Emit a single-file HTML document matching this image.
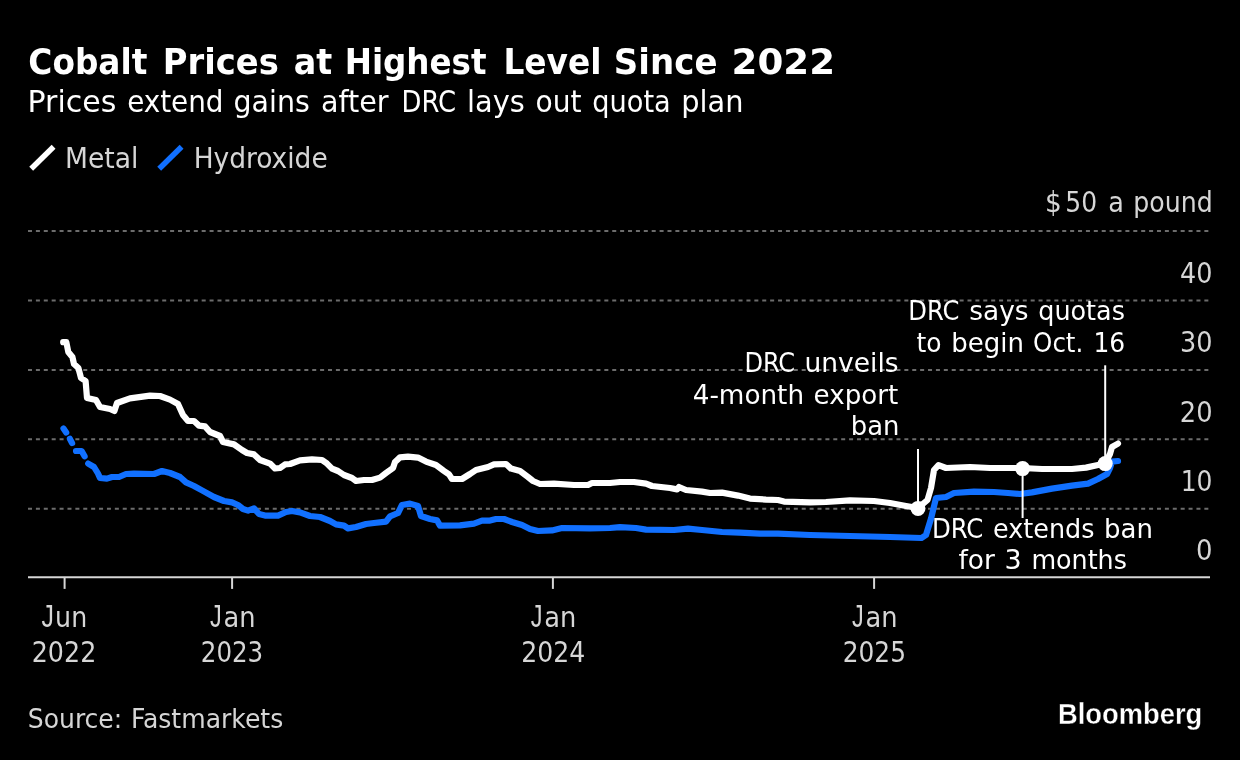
<!DOCTYPE html>
<html lang="en"><head><meta charset="utf-8"><title>Cobalt Prices at Highest Level Since 2022</title>
<style>
html,body{margin:0;padding:0;background:#000;}
body{width:1240px;height:760px;overflow:hidden;}
svg{display:block;}
text{font-family:'DejaVu Sans Condensed','DejaVu Sans','Liberation Sans',sans-serif;fill:#fff;white-space:pre;}
.t{font-weight:bold;font-size:35.8px;}
.s{font-size:31px;}
.l{font-size:28px;fill:#d6d6d6;}
.y{font-size:28px;fill:#d6d6d6;}
.x{font-size:27.6px;fill:#d6d6d6;}
.a{font-size:27.4px;fill:#fff;}
.src{font-size:26.6px;fill:#d6d6d6;}
.bb{font-family:'Liberation Sans','DejaVu Sans',sans-serif;font-weight:bold;font-size:28.8px;fill:#fff;stroke:#000;stroke-width:0.3px;}
.g{stroke:#6c6c6c;stroke-width:2;stroke-dasharray:4 3.895;fill:none;}
.ax{stroke:#d6d6d6;stroke-width:2;fill:none;}
.al{stroke:#fff;stroke-width:2;fill:none;}
.w{stroke:#fff;stroke-width:6.2;fill:none;stroke-linejoin:round;stroke-linecap:round;}
.b{stroke:#1170ff;stroke-width:6.2;fill:none;stroke-linejoin:round;stroke-linecap:round;}
</style></head><body>
<svg width="1240" height="760" viewBox="0 0 1240 760">
<rect width="1240" height="760" fill="#000"/>
<path d="M31.2,168.8 L53.6,146.8" stroke="#fff" stroke-width="5.5" fill="none"/>
<path d="M159.2,168.8 L181.6,146.8" stroke="#1170ff" stroke-width="5.5" fill="none"/>
<path class="g" d="M28,230.9 H1208.4"/>
<path class="g" d="M28,300.4 H1208.4"/>
<path class="g" d="M28,369.9 H1208.4"/>
<path class="g" d="M28,439.35 H1208.4"/>
<path class="g" d="M28,508.75 H1208.4"/>
<path class="b" d="M63.5,428.5 L66.2,432.4"/>
<path class="b" d="M69.9,438.8 L72.1,443.1"/>
<path class="b" d="M76.0,451.0 L81.6,451.0 L84.6,456.3"/>
<path class="b" d="M88.2,463.6 L94.0,467.0 L98.0,473.5 L100.0,478.0 L107.0,478.6 L112.0,477.0 L119.0,477.0 L126.0,474.0 L134.0,473.6 L154.0,474.0 L162.0,471.0 L170.0,473.0 L180.0,477.0 L186.0,482.4 L194.0,486.0 L202.0,490.4 L214.0,497.0 L224.0,501.0 L232.0,502.4 L238.0,505.0 L243.0,509.0 L248.0,510.6 L254.0,508.4 L259.0,514.0 L265.0,515.6 L278.0,515.6 L286.0,512.0 L292.0,511.0 L300.0,512.4 L310.0,516.0 L320.0,517.0 L330.0,521.0 L336.0,524.4 L344.0,525.6 L348.0,528.4 L356.0,527.0 L366.0,524.0 L374.0,523.0 L386.0,521.6 L390.0,516.4 L398.0,513.0 L402.0,505.0 L410.0,503.6 L418.0,506.0 L421.0,516.0 L430.0,519.0 L437.0,520.4 L440.0,525.6 L460.0,525.4 L474.0,523.6 L482.0,520.6 L490.0,520.6 L496.0,519.0 L504.0,519.0 L512.0,522.0 L522.0,525.0 L530.0,529.0 L538.0,531.0 L552.0,530.4 L562.0,528.0 L590.0,528.4 L610.0,528.0 L620.0,527.2 L636.0,528.0 L646.0,529.6 L674.0,530.0 L688.0,528.6 L702.0,530.0 L722.0,532.0 L740.0,532.6 L760.0,533.6 L778.0,533.6 L810.0,535.0 L850.0,536.0 L890.0,537.0 L921.5,538.0 L926.0,535.0 L931.2,518.0 L936.0,498.0 L946.0,497.0 L954.0,493.0 L974.0,491.6 L994.0,492.0 L1008.0,493.0 L1020.0,494.0 L1032.0,492.4 L1052.0,488.6 L1072.0,485.6 L1088.0,483.6 L1098.0,479.0 L1107.0,474.0 L1110.0,468.0 L1112.0,461.6 L1118.0,461.0"/>
<path class="w" d="M63.2,342.2 L66.3,342.0 L68.3,352.0 L72.4,357.0 L74.0,364.0 L78.4,368.0 L81.0,378.0 L85.6,381.0 L87.0,398.0 L96.0,400.0 L100.0,407.0 L110.0,409.0 L114.4,411.0 L117.0,403.0 L130.0,398.4 L150.0,395.6 L160.0,396.0 L170.0,399.6 L178.0,404.0 L183.0,415.0 L188.0,421.0 L194.0,421.0 L199.0,425.6 L205.0,426.4 L210.0,432.0 L220.0,436.0 L223.0,442.0 L234.0,444.4 L242.0,450.0 L247.0,453.0 L254.0,454.4 L260.0,460.0 L270.0,463.6 L275.0,468.4 L280.0,468.0 L285.0,464.4 L290.0,464.0 L300.0,460.4 L312.0,459.4 L322.0,460.0 L327.0,463.6 L332.0,468.6 L338.0,471.0 L344.0,475.0 L352.0,478.0 L356.0,481.0 L364.0,480.0 L372.0,480.0 L380.0,477.6 L386.0,473.0 L393.0,468.0 L395.0,462.0 L400.0,457.4 L408.0,456.6 L418.0,457.6 L426.0,461.6 L436.0,465.0 L444.0,471.0 L449.0,474.4 L452.0,479.0 L462.0,479.0 L470.0,474.0 L476.0,470.0 L488.0,467.0 L494.0,464.4 L506.0,464.0 L511.0,468.6 L520.0,471.0 L528.0,477.0 L533.0,481.0 L540.0,484.0 L554.0,483.6 L574.0,485.0 L588.0,485.0 L592.0,483.0 L610.0,483.0 L620.0,482.0 L634.0,482.0 L646.0,483.6 L652.0,486.0 L670.0,488.0 L677.0,489.4 L679.0,487.0 L686.0,490.0 L702.0,491.6 L710.0,493.0 L722.0,492.6 L738.0,495.6 L750.0,498.6 L766.0,499.6 L778.0,500.0 L784.0,501.6 L810.0,502.4 L826.0,502.0 L850.0,500.4 L874.0,501.0 L890.0,503.0 L906.0,506.0 L918.0,508.0 L927.5,500.0 L931.0,488.0 L934.0,470.0 L938.5,465.2 L946.0,468.0 L970.0,467.0 L990.0,468.0 L1022.0,468.0 L1042.0,469.0 L1072.0,469.0 L1086.0,467.6 L1098.0,465.0 L1105.0,463.6 L1110.0,454.0 L1112.0,447.0 L1118.0,443.6"/>
<path class="al" d="M918,449 V508"/>
<path class="al" d="M1022.6,468 V518"/>
<path class="al" d="M1105.2,365.3 V463"/>
<circle cx="918" cy="508.4" r="7.5" fill="#fff"/>
<circle cx="1022.6" cy="468.6" r="7.5" fill="#fff"/>
<circle cx="1105.2" cy="463.6" r="7.5" fill="#fff"/>
<path class="ax" d="M28,577.3 H1210"/>
<path class="ax" d="M64.6,577.3 V588.9"/>
<path class="ax" d="M232.1,577.3 V588.9"/>
<path class="ax" d="M552.9,577.3 V588.9"/>
<path class="ax" d="M874.1,577.3 V588.9"/>
<text class="t" y="73.8"><tspan x="28.36" textLength="118.94" lengthAdjust="spacingAndGlyphs">Cobalt</tspan> <tspan x="162.82" textLength="116.02" lengthAdjust="spacingAndGlyphs">Prices</tspan> <tspan x="293.84" textLength="38.47" lengthAdjust="spacingAndGlyphs">at</tspan> <tspan x="344.67" textLength="141.88" lengthAdjust="spacingAndGlyphs">Highest</tspan> <tspan x="503.4" textLength="98.04" lengthAdjust="spacingAndGlyphs">Level</tspan> <tspan x="613.89" textLength="103.58" lengthAdjust="spacingAndGlyphs">Since</tspan> <tspan x="731.62" textLength="103.51" lengthAdjust="spacingAndGlyphs">2022</tspan></text>
<text class="s" y="112"><tspan x="27.6" textLength="88.75" lengthAdjust="spacingAndGlyphs">Prices</tspan> <tspan x="127.15" textLength="96.3" lengthAdjust="spacingAndGlyphs">extend</tspan> <tspan x="233.52" textLength="76.22" lengthAdjust="spacingAndGlyphs">gains</tspan> <tspan x="321.01" textLength="67.57" lengthAdjust="spacingAndGlyphs">after</tspan> <tspan x="401.51" textLength="54.49" lengthAdjust="spacingAndGlyphs">DRC</tspan> <tspan x="467.0" textLength="57.76" lengthAdjust="spacingAndGlyphs">lays</tspan> <tspan x="535.54" textLength="45.99" lengthAdjust="spacingAndGlyphs">out</tspan> <tspan x="592.33" textLength="78.44" lengthAdjust="spacingAndGlyphs">quota</tspan> <tspan x="681.25" textLength="62.26" lengthAdjust="spacingAndGlyphs">plan</tspan></text>
<text class="l" y="167.7"><tspan x="64.99" textLength="73.42" lengthAdjust="spacingAndGlyphs">Metal</tspan></text>
<text class="l" y="167.7"><tspan x="193.7" textLength="134.02" lengthAdjust="spacingAndGlyphs">Hydroxide</tspan></text>
<text class="y" y="211.8"><tspan x="1045.07" textLength="16.74" lengthAdjust="spacingAndGlyphs">$</tspan><tspan x="1065.26" textLength="31.81" lengthAdjust="spacingAndGlyphs">50</tspan> <tspan x="1108.37" textLength="15.62" lengthAdjust="spacingAndGlyphs">a</tspan> <tspan x="1133.31" textLength="79.39" lengthAdjust="spacingAndGlyphs">pound</tspan></text>
<text class="y" y="283.0"><tspan x="1180.12" textLength="32.39" lengthAdjust="spacingAndGlyphs">40</tspan></text>
<text class="y" y="352.2"><tspan x="1180.03" textLength="32.48" lengthAdjust="spacingAndGlyphs">30</tspan></text>
<text class="y" y="421.6"><tspan x="1179.81" textLength="32.7" lengthAdjust="spacingAndGlyphs">20</tspan></text>
<text class="y" y="491.0"><tspan x="1180.7" textLength="31.78" lengthAdjust="spacingAndGlyphs">10</tspan></text>
<text class="y" y="559.9"><tspan x="1196.05" textLength="16.48" lengthAdjust="spacingAndGlyphs">0</tspan></text>
<text class="x" y="626.8"><tspan x="41.41" textLength="12.44" lengthAdjust="spacingAndGlyphs" style="font-family:'Liberation Sans',sans-serif;font-size:31px">J</tspan><tspan x="55.14" textLength="32.03" lengthAdjust="spacingAndGlyphs">un</tspan></text>
<text class="x" y="662"><tspan x="31.74" textLength="64.54" lengthAdjust="spacingAndGlyphs">2022</tspan></text>
<text class="x" y="626.8"><tspan x="210.03" textLength="11.73" lengthAdjust="spacingAndGlyphs" style="font-family:'Liberation Sans',sans-serif;font-size:31px">J</tspan><tspan x="223.56" textLength="32.05" lengthAdjust="spacingAndGlyphs">an</tspan></text>
<text class="x" y="662"><tspan x="200.79" textLength="62.45" lengthAdjust="spacingAndGlyphs">2023</tspan></text>
<text class="x" y="626.8"><tspan x="530.83" textLength="11.73" lengthAdjust="spacingAndGlyphs" style="font-family:'Liberation Sans',sans-serif;font-size:31px">J</tspan><tspan x="544.36" textLength="32.05" lengthAdjust="spacingAndGlyphs">an</tspan></text>
<text class="x" y="662"><tspan x="521.15" textLength="63.99" lengthAdjust="spacingAndGlyphs">2024</tspan></text>
<text class="x" y="626.8"><tspan x="852.03" textLength="11.73" lengthAdjust="spacingAndGlyphs" style="font-family:'Liberation Sans',sans-serif;font-size:31px">J</tspan><tspan x="865.56" textLength="32.05" lengthAdjust="spacingAndGlyphs">an</tspan></text>
<text class="x" y="662"><tspan x="842.77" textLength="63.22" lengthAdjust="spacingAndGlyphs">2025</tspan></text>
<text class="a" y="371.6"><tspan x="744.41" textLength="50.72" lengthAdjust="spacingAndGlyphs">DRC</tspan> <tspan x="804.56" textLength="94.06" lengthAdjust="spacingAndGlyphs">unveils</tspan></text>
<text class="a" y="403.5"><tspan x="692.69" textLength="111.36" lengthAdjust="spacingAndGlyphs">4-month</tspan> <tspan x="813.64" textLength="84.62" lengthAdjust="spacingAndGlyphs">export</tspan></text>
<text class="a" y="434.7"><tspan x="850.75" textLength="48.67" lengthAdjust="spacingAndGlyphs">ban</tspan></text>
<text class="a" y="319.6"><tspan x="908.3" textLength="51.04" lengthAdjust="spacingAndGlyphs">DRC</tspan> <tspan x="969.22" textLength="59.29" lengthAdjust="spacingAndGlyphs">says</tspan> <tspan x="1038.28" textLength="86.61" lengthAdjust="spacingAndGlyphs">quotas</tspan></text>
<text class="a" y="351.9"><tspan x="916.57" textLength="24.99" lengthAdjust="spacingAndGlyphs">to</tspan> <tspan x="951.34" textLength="72.69" lengthAdjust="spacingAndGlyphs">begin</tspan> <tspan x="1033.12" textLength="50.12" lengthAdjust="spacingAndGlyphs">Oct.</tspan> <tspan x="1093.4" textLength="31.74" lengthAdjust="spacingAndGlyphs">16</tspan></text>
<text class="a" y="537.6"><tspan x="931.88" textLength="51.46" lengthAdjust="spacingAndGlyphs">DRC</tspan> <tspan x="993.07" textLength="101.41" lengthAdjust="spacingAndGlyphs">extends</tspan> <tspan x="1104.14" textLength="48.89" lengthAdjust="spacingAndGlyphs">ban</tspan></text>
<text class="a" y="569"><tspan x="958.54" textLength="36.3" lengthAdjust="spacingAndGlyphs">for</tspan> <tspan x="1004.52" textLength="17.18" lengthAdjust="spacingAndGlyphs">3</tspan> <tspan x="1031.4" textLength="95.48" lengthAdjust="spacingAndGlyphs">months</tspan></text>
<text class="src" y="728.1"><tspan x="27.8" textLength="94.39" lengthAdjust="spacingAndGlyphs">Source:</tspan> <tspan x="131.02" textLength="152.25" lengthAdjust="spacingAndGlyphs">Fastmarkets</tspan></text>
<text class="bb" y="723.7"><tspan x="1057.99" textLength="144.26" lengthAdjust="spacingAndGlyphs">Bloomberg</tspan></text>
</svg>
</body></html>
